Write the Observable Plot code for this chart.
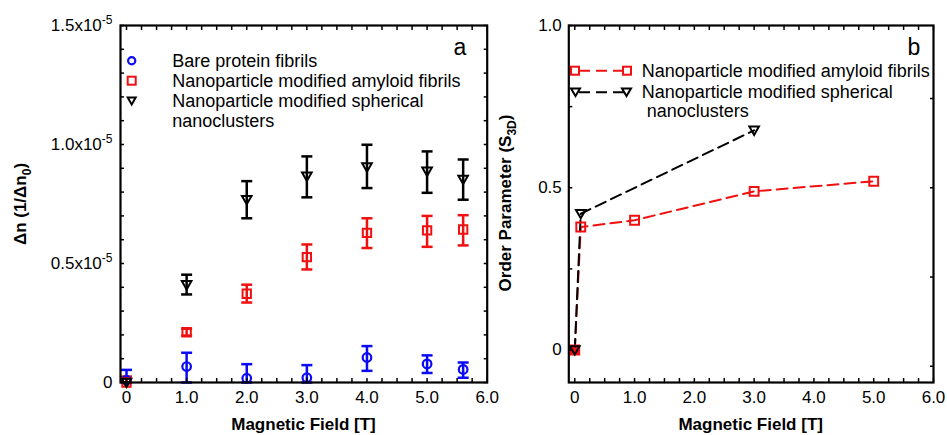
<!DOCTYPE html>
<html><head><meta charset="utf-8">
<script src="https://cdn.jsdelivr.net/npm/d3@7"></script>
<script src="https://cdn.jsdelivr.net/npm/@observablehq/plot@0.6"></script>
<style>
body{margin:0;background:#fff;font-family:"Liberation Sans",Arial,sans-serif;}
#wrap{position:relative;width:947px;height:435px;overflow:hidden;background:#fff;}
#wrap svg.plt{position:absolute;top:0;}
.abs{position:absolute;white-space:nowrap;line-height:1;color:#000;}
.c{transform:translate(-50%,-50%);}
.vl{transform:translate(-50%,-50%) rotate(-90deg);}
.t{font-weight:bold;font-size:17px;}
.lg{font-size:18px;transform:translateY(-50%);}
.bg{background:#fff;padding-right:1px;}
sub{font-size:12px;vertical-align:-5px;}
</style></head><body><div id="wrap"></div>
<script>
// ---------- data ----------
const fieldA = [0, 1, 2, 3, 4, 5, 5.6];
const bareY  = [0.01e-5, 0.067e-5, 0.018e-5, 0.02e-5, 0.105e-5, 0.078e-5, 0.055e-5];
const bareLo = [0, 0, 0, 0, 0.049e-5, 0.04e-5, 0.02e-5];
const bareHi = [0.053e-5, 0.125e-5, 0.077e-5, 0.073e-5, 0.153e-5, 0.114e-5, 0.084e-5];
const amyY   = [0, 0.211e-5, 0.373e-5, 0.527e-5, 0.629e-5, 0.639e-5, 0.643e-5];
const amyLo  = [0, 0.197e-5, 0.336e-5, 0.475e-5, 0.565e-5, 0.57e-5, 0.576e-5];
const amyHi  = [0.025e-5, 0.226e-5, 0.411e-5, 0.58e-5, 0.69e-5, 0.70e-5, 0.703e-5];
const sphY   = [0, 0.41e-5, 0.768e-5, 0.866e-5, 0.905e-5, 0.887e-5, 0.853e-5];
const sphLo  = [0, 0.37e-5, 0.69e-5, 0.778e-5, 0.817e-5, 0.797e-5, 0.768e-5];
const sphHi  = [0, 0.453e-5, 0.846e-5, 0.95e-5, 0.999e-5, 0.971e-5, 0.937e-5];

const fieldBAmy = [0, 0.1, 1, 3, 5];
const orderAmy  = [0, 0.379, 0.40, 0.489, 0.52];
const fieldBSph = [0, 0.1, 3];
const orderSph  = [0, 0.42, 0.677];

const xTicks = [0, 1, 2, 3, 4, 5, 6];
const xMinor = d3.range(0, 6.001, 0.25);
const yTicksA = [0, 0.5e-5, 1.0e-5, 1.5e-5];
const yMinorA = d3.range(0, 1.5001e-5, 0.1e-5);
const yTicksB = [0, 0.5, 1.0];
const yMinorBLeft = [0, 0.25, 0.5, 0.75, 1.0];
const yMinorBRight = [-0.05, 0.225, 0.5, 0.775];

const legendA = ["Bare protein fibrils", "Nanoparticle modified amyloid fibrils", "Nanoparticle modified spherical", "nanoclusters"];
const legendB = ["Nanoparticle modified amyloid fibrils", "Nanoparticle modified spherical", "nanoclusters"];

const BLUE = "#0a0af5", RED = "#f01010", BLACK = "#000";

// ---------- symbols ----------
const triDown = {draw(ctx, size){ const r = Math.sqrt(size/Math.PI); ctx.moveTo(-r,-r*0.8); ctx.lineTo(r,-r*0.8); ctx.lineTo(0,r*0.95); ctx.closePath(); }};
const cap = {draw(ctx, size){ const r = Math.sqrt(size/Math.PI); ctx.moveTo(-r,0); ctx.lineTo(r,0); }};

const wrap = document.getElementById("wrap");
const fmtX = d => d === 0 ? "0" : d.toFixed(1);
const blank = () => "";

function rowsOf(xs, ys, lo, hi){ return xs.map((x,i)=>({x, y: ys[i], lo: lo ? lo[i] : null, hi: hi ? hi[i] : null})); }
function errMarks(rows, color){
  return [
    Plot.ruleX(rows, {x:"x", y1:"lo", y2:"hi", stroke: color, strokeWidth: 2.5}),
    Plot.dot(rows, {x:"x", y:"lo", symbol: cap, r: 5.5, stroke: color, strokeWidth: 2.5}),
    Plot.dot(rows, {x:"x", y:"hi", symbol: cap, r: 5.5, stroke: color, strokeWidth: 2.5})
  ];
}
const styleSvg = {background:"transparent", overflow:"visible", fontFamily:"'Liberation Sans', Arial, sans-serif", fontSize:"17px", color:"#000"};

// ---------- panel a ----------
const bare = rowsOf(fieldA, bareY, bareLo, bareHi);
const amy = rowsOf(fieldA, amyY, amyLo, amyHi);
const sph = rowsOf(fieldA, sphY, sphLo, sphHi);

const pa = Plot.plot({
  width: 500, height: 435,
  marginLeft: 120, marginRight: 13.3, marginTop: 25, marginBottom: 53,
  style: styleSvg,
  x: {domain: [-0.1, 6]},
  y: {domain: [0, 1.5e-5]},
  marks: [
    ...errMarks(bare, BLUE), ...errMarks(amy, RED), ...errMarks(sph, BLACK),
    Plot.dot(bare, {x:"x", y:"y", symbol:"circle", r: 4.3, stroke: BLUE, strokeWidth: 2.2, fill:"none"}),
    Plot.dot(amy, {x:"x", y:"y", symbol:"square", r: 4.7, stroke: RED, strokeWidth: 2, fill:"none"}),
    Plot.dot(sph, {x:"x", y:"y", symbol: triDown, r: 4.8, stroke: BLACK, strokeWidth: 2, fill:"none"}),
    Plot.axisX({ticks: xTicks, tickSize: 0, tickPadding: 8, tickFormat: fmtX, label: null, fontSize: 17}),
    Plot.axisX({ticks: xMinor, tickSize: -4, tickFormat: blank, label: null, strokeWidth: 1.5}),
    Plot.axisX({anchor: "top", ticks: xMinor, tickSize: -4, tickFormat: blank, label: null, strokeWidth: 1.5}),
    Plot.axisY({ticks: yTicksA, tickSize: 0, tickPadding: 8, tickFormat: d => d === 0 ? "0" : (d*1e5).toFixed(1) + "x10^-5", label: null, fontSize: 17}),
    Plot.axisY({ticks: yMinorA, tickSize: -4, tickFormat: blank, label: null, strokeWidth: 1.5}),
    Plot.axisY({anchor: "right", ticks: yMinorA, tickSize: -4, tickFormat: blank, label: null, strokeWidth: 1.5}),
    Plot.frame({strokeWidth: 2.2})
  ]
});
pa.classList.add("plt"); pa.style.left = "0px";
wrap.appendChild(pa);

// ---------- panel b ----------
const bAmy = rowsOf(fieldBAmy, orderAmy);
const bSph = rowsOf(fieldBSph, orderSph);
const pb = Plot.plot({
  width: 467, height: 435,
  marginLeft: 88.3, marginRight: 14, marginTop: 25, marginBottom: 53,
  style: styleSvg,
  x: {domain: [-0.1, 6]},
  y: {domain: [-0.1, 1.0]},
  marks: [
    Plot.line(bAmy, {x:"x", y:"y", stroke: RED, strokeWidth: 2, strokeDasharray: "11,6"}),
    Plot.line(bSph, {x:"x", y:"y", stroke: BLACK, strokeWidth: 2, strokeDasharray: "11,6"}),
    Plot.dot(bAmy, {x:"x", y:"y", symbol:"square", r: 5, stroke: RED, strokeWidth: 2, fill: d => d.x === 0 ? RED : "none"}),
    Plot.dot(bSph, {x:"x", y:"y", symbol: triDown, r: 4.8, stroke: BLACK, strokeWidth: 2, fill:"none"}),
    Plot.axisX({ticks: xTicks, tickSize: 0, tickPadding: 8, tickFormat: fmtX, label: null, fontSize: 17}),
    Plot.axisX({ticks: xMinor, tickSize: -4, tickFormat: blank, label: null, strokeWidth: 1.5}),
    Plot.axisX({anchor: "top", ticks: xMinor, tickSize: -4, tickFormat: blank, label: null, strokeWidth: 1.5}),
    Plot.axisY({ticks: yTicksB, tickSize: 0, tickPadding: 7, tickFormat: d => d === 0 ? "0" : d.toFixed(1), label: null, fontSize: 17}),
    Plot.axisY({ticks: yMinorBLeft, tickSize: -4, tickFormat: blank, label: null, strokeWidth: 1.5}),
    Plot.axisY({anchor: "right", ticks: yMinorBRight, tickSize: -4, tickFormat: blank, label: null, strokeWidth: 1.5}),
    Plot.frame({strokeWidth: 2.2})
  ]
});
pb.classList.add("plt"); pb.style.left = "480px";
wrap.appendChild(pb);

// superscripts in tick labels
d3.select(pa).selectAll("text").each(function(){
  const t = this.textContent;
  if (t.includes("^")) {
    const [base, sup] = t.split("^");
    const sel = d3.select(this);
    sel.text(base);
    sel.append("tspan").attr("dy", "-0.6em").attr("font-size", "12px").text(sup);
  }
});

// ---------- overlays: titles, labels, legends ----------
function html(s){ wrap.insertAdjacentHTML("beforeend", s); }
html(`<div class="abs c t" style="left:303.5px;top:424px">Magnetic Field [T]</div>`);
html(`<div class="abs c t" style="left:750.7px;top:424px">Magnetic Field [T]</div>`);
html(`<div class="abs vl t" style="left:22px;top:204px">&Delta;n (1/&Delta;n<sub>0</sub>)</div>`);
html(`<div class="abs vl t" style="left:507px;top:203px">Order Parameter (S<sub>3D</sub>)</div>`);
html(`<div class="abs c" style="left:460px;top:47px;font-size:23px">a</div>`);
html(`<div class="abs c" style="left:914px;top:47px;font-size:23px">b</div>`);

// legend a
const lgA = [60.7, 80.7, 100.7, 120.7];
legendA.forEach((s, i) => html(`<div class="abs lg" style="left:172.3px;top:${lgA[i]}px">${s}</div>`));
html(`<svg style="position:absolute;left:0;top:0;overflow:visible" width="1" height="1">
  <circle cx="131.7" cy="60.7" r="3.6" fill="none" stroke="${BLUE}" stroke-width="2.2"/>
  <rect x="127.7" y="76.7" width="8" height="8" fill="none" stroke="${RED}" stroke-width="2"/>
  <path d="M127.7,97.5 L135.7,97.5 L131.7,104.5 Z" fill="none" stroke="${BLACK}" stroke-width="2"/>
</svg>`);

// legend b
const lgB = [70.7, 92.3, 110.5];
const lgBx = [641.7, 641.7, 646.7];
legendB.forEach((s, i) => html(`<div class="abs lg${i === 0 ? " bg" : ""}" style="left:${lgBx[i]}px;top:${lgB[i]}px">${s}</div>`));
html(`<svg style="position:absolute;left:0;top:0;overflow:visible" width="1" height="1">
  <line x1="575" y1="70.7" x2="627" y2="70.7" stroke="${RED}" stroke-width="2" stroke-dasharray="11,6" stroke-dashoffset="-4"/>
  <rect x="571" y="66.7" width="8" height="8" fill="#fff" stroke="${RED}" stroke-width="2"/>
  <rect x="623" y="66.7" width="8" height="8" fill="#fff" stroke="${RED}" stroke-width="2"/>
  <line x1="575" y1="92.3" x2="627" y2="92.3" stroke="${BLACK}" stroke-width="2" stroke-dasharray="11,6" stroke-dashoffset="-4"/>
  <path d="M571,88.5 L580,88.5 L575.5,96 Z" fill="#fff" stroke="${BLACK}" stroke-width="2"/>
  <path d="M622,88.5 L631,88.5 L626.5,96 Z" fill="#fff" stroke="${BLACK}" stroke-width="2"/>
</svg>`);
</script>
</body></html>
